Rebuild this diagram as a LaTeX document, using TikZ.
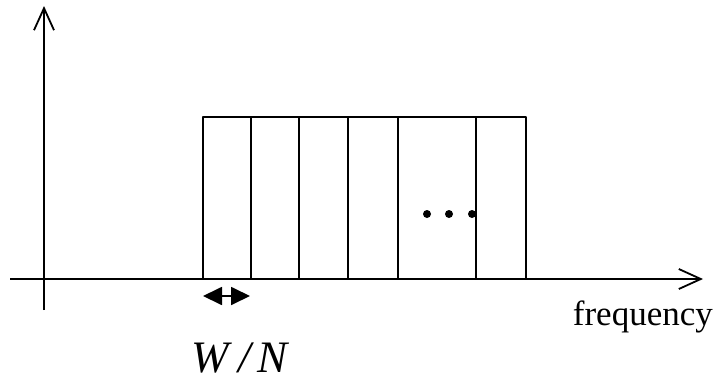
\documentclass[tikz,border=0pt]{standalone}
\usepackage{fontspec}
\newfontfamily\timesfont{Liberation Serif}
\usetikzlibrary{arrows.meta}
\tikzset{every picture/.style={line width=1.8pt}}
\begin{document}
\begin{tikzpicture}[x=1pt, y=-1pt, line join = round, >={Straight Barb[length=22pt,width=20pt]}]
		\useasboundingbox (0,0) rectangle (720,383);
		\path (44,310)coordinate(Yb)
			(44,6)coordinate(Y)
			(10,279)coordinate(Xa)
			(703,279)coordinate(X)
			(203,117)coordinate(A)
			(526,279)coordinate(B)
			(203,296)coordinate(L)
			(250,296)coordinate(R);
		\draw [->] (Yb)--(Y);
		\draw [->] (Xa)--(X);
		\draw (A) rectangle (B);
		\foreach \x in {251,299,348,398,476}\draw (\x,117)--(\x,279);
		\foreach \x in {427,449,472}\fill (\x,214) circle (4pt);
		\draw [{Triangle[length=19pt,width=18pt]}-{Triangle[length=19pt,width=18pt]}] (L)--(R);
		\node[anchor=base west, inner sep=0pt, font=\timesfont\fontsize{35}{42}\selectfont] (freq) at (572,325) {frequency};
		\node[anchor=base west, inner sep=0pt, font=\timesfont\itshape\fontsize{45}{54}\selectfont] (wn) at (191,372) {W\kern9pt/\kern7pt N};
	\end{tikzpicture}
\end{document}
